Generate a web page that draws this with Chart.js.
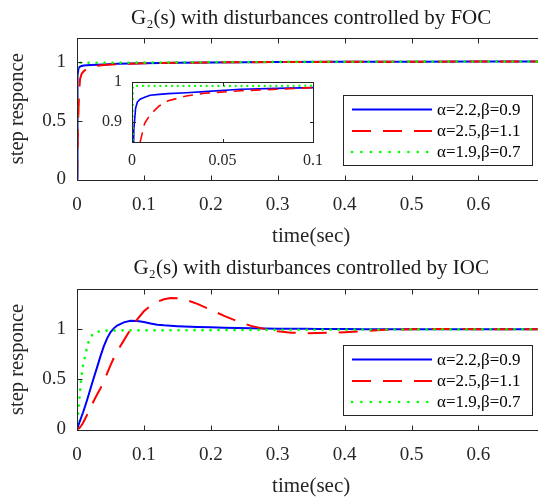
<!DOCTYPE html>
<html>
<head>
<meta charset="utf-8">
<script src="https://cdn.jsdelivr.net/npm/chart.js@4/dist/chart.umd.min.js"></script>
<style>
  html, body { margin: 0; padding: 0; background: #fff; }
  #wrap { position: relative; width: 538px; height: 499px; overflow: hidden; background: #fff; }
  canvas { position: absolute; }
</style>
</head>
<body>
<div id="wrap">
  <canvas id="foc" width="560" height="250" style="left:0;top:0"></canvas>
  <canvas id="ioc" width="560" height="250" style="left:0;top:250px"></canvas>
  <canvas id="inset" width="240" height="100" style="left:92px;top:75px"></canvas>
</div>
<script>
// tick labels
var timeTicks = [0, 0.1, 0.2, 0.3, 0.4, 0.5, 0.6];
var stepTicks = [0, 0.5, 1];
var insetTimeTicks = [0, 0.05, 0.1];
var insetStepTicks = [0.9, 1];
var seriesLabels = ['α=2.2,β=0.9', 'α=2.5,β=1.1', 'α=1.9,β=0.7'];

// FOC step responses
var focT = [0, 0.0005, 0.001, 0.002, 0.003, 0.0045, 0.007, 0.01, 0.015, 0.02, 0.03, 0.04, 0.06, 0.08, 0.1, 0.15, 0.2, 0.3, 0.4, 0.5, 0.6, 0.75];
var focBlue = [0, 0.7, 0.88, 0.935, 0.95, 0.957, 0.962, 0.967, 0.969, 0.971, 0.973, 0.976, 0.982, 0.984, 0.986, 0.99, 0.993, 0.996, 0.998, 0.999, 1, 1];
var focRed = [0, 0.15, 0.3, 0.55, 0.72, 0.85, 0.897, 0.918, 0.94, 0.953, 0.965, 0.972, 0.978, 0.982, 0.986, 0.99, 0.993, 0.996, 0.998, 0.999, 1, 1];
var focGreen = [0, 0.99, 0.99, 0.99, 0.99, 0.99, 0.99, 0.99, 0.99, 0.99, 0.99, 0.99, 0.99, 0.99, 0.991, 0.993, 0.995, 0.997, 0.998, 0.999, 1, 1];

// IOC step responses
var iocT = [0, 0.001, 0.002, 0.004, 0.006, 0.009, 0.012, 0.016, 0.02, 0.025, 0.03, 0.035, 0.04, 0.045, 0.05, 0.055, 0.06, 0.07, 0.08, 0.09, 0.1, 0.11, 0.12, 0.13, 0.14, 0.15, 0.16, 0.18, 0.2, 0.22, 0.24, 0.26, 0.28, 0.3, 0.32, 0.34, 0.36, 0.38, 0.4, 0.43, 0.46, 0.5, 0.55, 0.6, 0.75];
var iocBlue = [0, 0.02, 0.04, 0.078, 0.115, 0.17, 0.23, 0.315, 0.405, 0.515, 0.62, 0.73, 0.83, 0.91, 0.97, 1.01, 1.038, 1.07, 1.085, 1.083, 1.073, 1.058, 1.047, 1.04, 1.035, 1.031, 1.028, 1.024, 1.02, 1.017, 1.014, 1.011, 1.009, 1.007, 1.006, 1.005, 1.004, 1.003, 1.003, 1.002, 1.002, 1.001, 1.001, 1, 1];
var iocRed = [0, 0.002, 0.006, 0.018, 0.035, 0.065, 0.105, 0.16, 0.215, 0.285, 0.35, 0.41, 0.48, 0.56, 0.64, 0.715, 0.78, 0.89, 1.0, 1.1, 1.18, 1.235, 1.275, 1.3, 1.312, 1.31, 1.3, 1.255, 1.195, 1.135, 1.08, 1.035, 1.005, 0.98, 0.967, 0.962, 0.963, 0.966, 0.972, 0.983, 0.995, 1.002, 1.004, 1.002, 1];
var iocGreen = [0, 0.09, 0.17, 0.34, 0.5, 0.64, 0.73, 0.85, 0.92, 0.962, 0.975, 0.982, 0.985, 0.987, 0.988, 0.988, 0.989, 0.989, 0.99, 0.99, 0.99, 0.99, 0.99, 0.99, 0.991, 0.991, 0.991, 0.992, 0.992, 0.993, 0.993, 0.994, 0.994, 0.995, 0.995, 0.996, 0.996, 0.997, 0.997, 0.998, 0.998, 0.999, 0.999, 1, 1];

Chart.defaults.font.family = '"Liberation Serif", "Times New Roman", serif';
Chart.defaults.color = '#262626';
Chart.defaults.animation = false;

var axisColor = '#262626';
var serif = '"Liberation Serif", "Times New Roman", serif';

function pts(t, v) {
  return t.map(function (x, i) { return { x: x, y: v[i] }; });
}

function makeSets(t, blue, red, green, w, dash, dots) {
  return [
    { label: seriesLabels[0], data: pts(t, blue), borderColor: '#0000ff', borderWidth: w, order: 3 },
    { label: seriesLabels[1], data: pts(t, red), borderColor: '#ff0000', borderWidth: w, borderDash: dash, order: 2 },
    { label: seriesLabels[2], data: pts(t, green), borderColor: '#00ff00', borderWidth: w + 0.7, borderDash: dots, borderCapStyle: 'round', order: 1 }
  ];
}

function drawLegend(ctx, chart) {
  var bx = 343.5, by = 95.5, bw = 189, bh = 70;
  var rows = [109.5, 131, 152];
  var dashes = [[], [19, 12], [0, 9.4]];
  ctx.fillStyle = '#fff';
  ctx.fillRect(bx, by, bw, bh);
  ctx.strokeStyle = axisColor;
  ctx.lineWidth = 1;
  ctx.strokeRect(bx, by, bw, bh);
  chart.data.datasets.forEach(function (ds, i) {
    ctx.beginPath();
    ctx.strokeStyle = ds.borderColor;
    ctx.lineWidth = ds.borderWidth;
    ctx.lineCap = i === 2 ? 'round' : 'butt';
    ctx.setLineDash(dashes[i]);
    ctx.moveTo(352, rows[i]);
    ctx.lineTo(432, rows[i]);
    ctx.stroke();
    ctx.setLineDash([]);
    ctx.fillStyle = '#000';
    ctx.font = '17px ' + serif;
    ctx.textBaseline = 'middle';
    ctx.textAlign = 'left';
    ctx.fillText(ds.label, 437, rows[i] + 1);
  });
}

var framePlugin = {
  id: 'frame',
  beforeDatasetsDraw: function (chart, args, opts) {
    if (!opts.fill) return;
    var a = chart.chartArea;
    chart.ctx.save();
    chart.ctx.fillStyle = '#fff';
    chart.ctx.fillRect(a.left, a.top, a.width, a.height);
    chart.ctx.restore();
  },
  afterDraw: function (chart, args, opts) {
    var ctx = chart.ctx, a = chart.chartArea, xs = chart.scales.x, ys = chart.scales.y;
    var L = Math.round(a.left) + 0.5, R = Math.round(a.right) + 0.5;
    var T = Math.round(a.top) + 0.5, B = Math.round(a.bottom) + 0.5;
    var tl = opts.tick;
    ctx.save();
    ctx.strokeStyle = axisColor;
    ctx.lineWidth = 1;
    ctx.strokeRect(L, T, R - L, B - T);
    ctx.beginPath();
    xs.ticks.forEach(function (tk) {
      var p = Math.round(xs.getPixelForValue(tk.value)) + 0.5;
      ctx.moveTo(p, B); ctx.lineTo(p, B - tl);
      ctx.moveTo(p, T); ctx.lineTo(p, T + tl);
    });
    ys.ticks.forEach(function (tk) {
      var p = Math.round(ys.getPixelForValue(tk.value)) + 0.5;
      ctx.moveTo(L, p); ctx.lineTo(L + tl, p);
      ctx.moveTo(R, p); ctx.lineTo(R - tl, p);
    });
    ctx.stroke();
    if (opts.legend) drawLegend(ctx, chart);
    ctx.restore();
  }
};

function xAxis(max, ticks, height, fontSize, pad, title) {
  return {
    type: 'linear', min: 0, max: max,
    grid: { display: false, drawTicks: false },
    border: { display: false },
    afterBuildTicks: function (s) { s.ticks = ticks.map(function (v) { return { value: v }; }); },
    afterFit: function (s) { s.height = height; s.paddingLeft = 0; s.paddingRight = 0; },
    ticks: { padding: pad, font: { size: fontSize }, maxRotation: 0, autoSkip: false,
             callback: function (v) { return String(v); } },
    title: title ? { display: true, text: title, font: { size: 21 }, padding: { top: 0, bottom: 1.2 } } : { display: false }
  };
}

function yAxis(min, max, ticks, width, fontSize, pad, title) {
  return {
    type: 'linear', min: min, max: max,
    grid: { display: false, drawTicks: false },
    border: { display: false },
    afterBuildTicks: function (s) { s.ticks = ticks.map(function (v) { return { value: v }; }); },
    afterFit: function (s) { s.width = width; s.paddingTop = 0; s.paddingBottom = 0; },
    ticks: { padding: pad, font: { size: fontSize }, autoSkip: false,
             callback: function (v) { return String(v); } },
    title: title ? { display: true, text: title, font: { size: 20.5 }, padding: { top: 5.5, bottom: 0 } } : { display: false }
  };
}

function mainChart(id, title, sets, yMax, titleBottom) {
  return new Chart(document.getElementById(id), {
    type: 'line',
    data: { datasets: sets },
    options: {
      responsive: false,
      devicePixelRatio: 1,
      layout: { padding: { left: 0, right: 14.7, top: 0, bottom: 0 } },
      elements: { point: { radius: 0 }, line: { tension: 0 } },
      scales: {
        x: xAxis(0.7, timeTicks, 70.5, 19, 14.5, 'time(sec)'),
        y: yAxis(0, yMax, stepTicks, 77, 19, 11, 'step responce')
      },
      plugins: {
        legend: { display: false },
        tooltip: { enabled: false },
        title: { display: true, text: title, fullSize: false, font: { size: 21, weight: 'normal' },
                 color: '#1a1a1a', padding: { top: 6, bottom: titleBottom } },
        frame: { tick: 5, legend: true, fill: false }
      }
    },
    plugins: [framePlugin]
  });
}

mainChart('foc', 'G\u2082(s) with disturbances controlled by FOC',
  makeSets(focT, focBlue, focRed, focGreen, 2, [19, 12], [0, 8]), 1.2, 6.8);
mainChart('ioc', 'G\u2082(s) with disturbances controlled by IOC',
  makeSets(iocT, iocBlue, iocRed, iocGreen, 2, [19, 12], [0, 8]), 1.4, 8.1);

var insetSets = makeSets(focT, focBlue, focRed, focGreen, 1.6, [10, 7], [0, 5.8]);
insetSets.forEach(function (ds) { ds.clip = 0; });

new Chart(document.getElementById('inset'), {
  type: 'line',
  data: { datasets: insetSets },
  options: {
    responsive: false,
    devicePixelRatio: 1,
    layout: { padding: { left: 0, right: 19, top: 7, bottom: 0 } },
    elements: { point: { radius: 0 }, line: { tension: 0 } },
    scales: {
      x: xAxis(0.1, insetTimeTicks, 33, 16, 9, null),
      y: yAxis(0.85, 1, insetStepTicks, 40, 16, 10, null)
    },
    plugins: {
      legend: { display: false },
      tooltip: { enabled: false },
      frame: { tick: 3.5, legend: false, fill: true }
    }
  },
  plugins: [framePlugin]
});
</script>
</body>
</html>
